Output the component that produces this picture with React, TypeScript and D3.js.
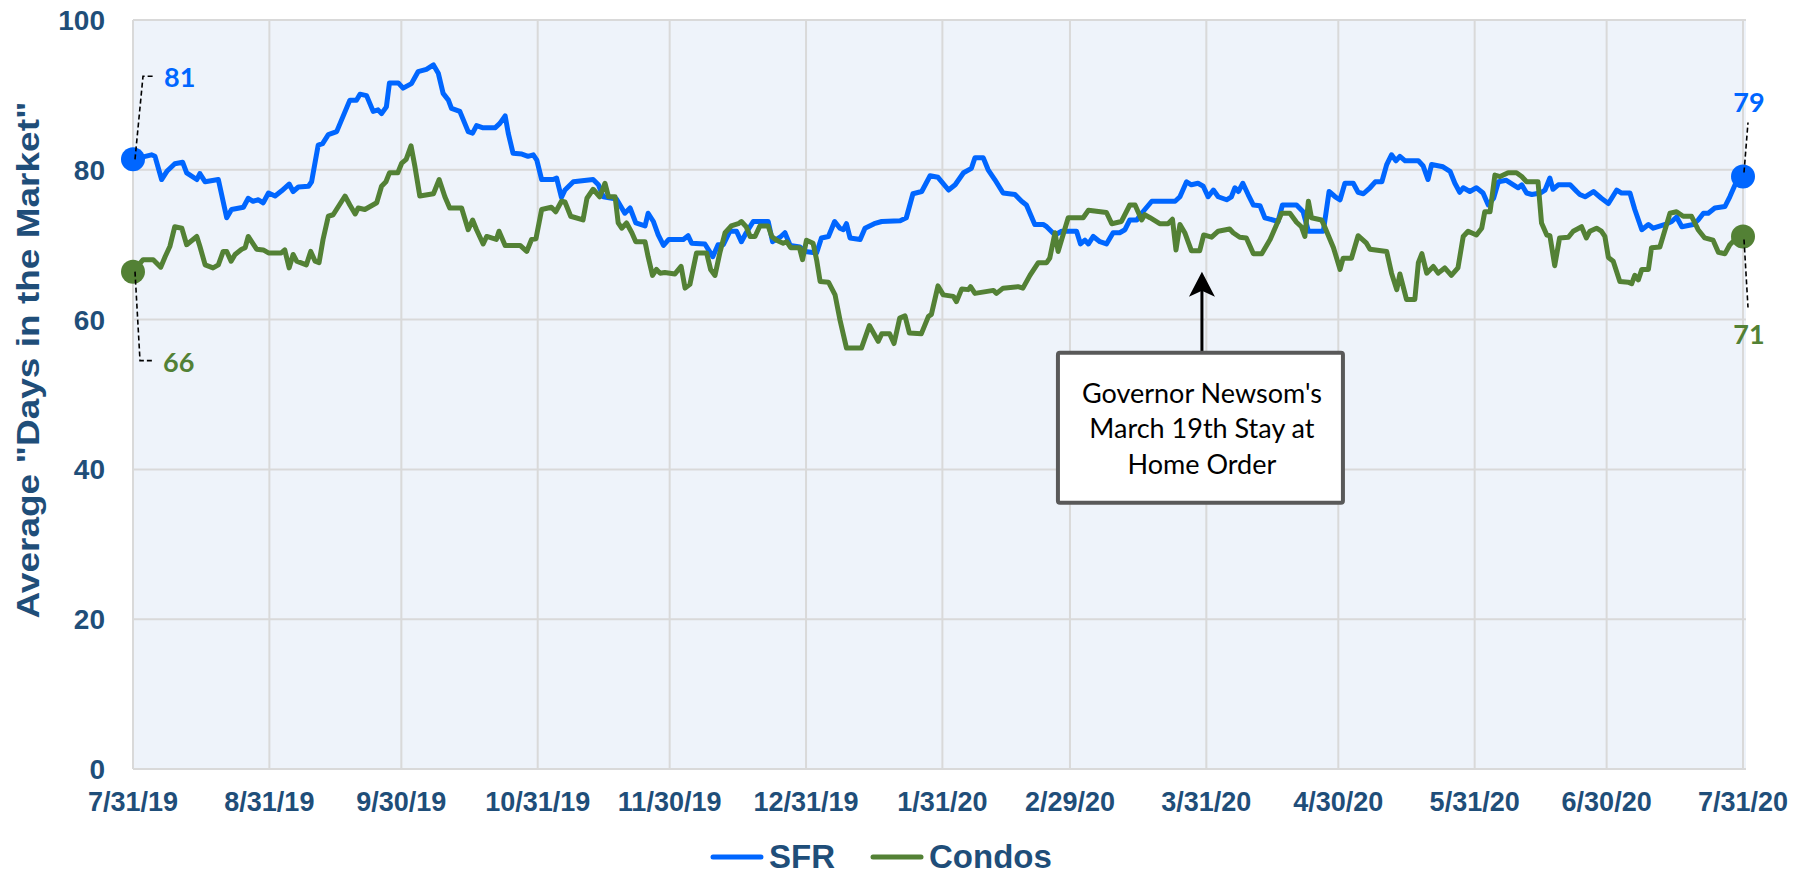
import * as d3 from 'd3';

// Average "Days in the Market", SFR vs Condos, 7/31/19 - 7/31/20
const START = '2019-07-31';
const tickLabels = ['7/31/19', '8/31/19', '9/30/19', '10/31/19', '11/30/19', '12/31/19', '1/31/20', '2/29/20', '3/31/20', '4/30/20', '5/31/20', '6/30/20', '7/31/20'];
const yTicks = [0, 20, 40, 60, 80, 100];

// days since 7/31/19
const sfrDays = [0, 4.2, 5, 6.5, 7.7, 9.5, 11.3, 12.2, 14.5, 15.2, 16.4, 19.4, 21.3, 22.4, 25.1, 26.2, 27.3, 28.5, 29.6, 30.8, 32.3, 33.8, 35.5, 36.4, 37.6, 39.9, 40.6, 42.1, 43.1, 44.4, 46.3, 49.3, 50.8, 51.6, 53.1, 54.6, 55.7, 56.5, 57.6, 58.3, 60.3, 61.4, 63.3, 64.8, 66.7, 68.3, 69.4, 70.5, 71.7, 72.4, 74.3, 76.2, 77.2, 78.1, 79.6, 82.3, 83.4, 84.6, 85.3, 86.4, 88.4, 89.8, 91, 91.8, 92.9, 95.5, 96.3, 97.4, 98.2, 100.1, 104.6, 105.8, 106.9, 109.9, 111.1, 111.8, 113, 114.3, 116.4, 117.1, 118.3, 119.4, 120.6, 121.8, 125.1, 126.2, 127, 130, 131.8, 133, 134.2, 135.7, 137.2, 138.3, 139.4, 141, 144.4, 145.4, 147.1, 148.2, 149.4, 151.6, 152.8, 155.4, 156.5, 158.1, 159.5, 160.7, 161.5, 162.2, 163, 165.3, 166.4, 168.5, 170.2, 174.4, 175.8, 177.3, 179.3, 181.2, 183, 185.4, 186.9, 188.8, 190.6, 191.4, 193.3, 194.4, 195.9, 197.8, 200.5, 202, 203.1, 205, 206.9, 207.7, 209.6, 211.1, 214.5, 215.4, 216.4, 217.2, 218.3, 219.8, 221.3, 222.8, 224.3, 225.5, 226.6, 228.2, 229.3, 231.6, 236.9, 238, 239.5, 240.6, 242.1, 243.3, 244.4, 245.6, 246.7, 248.6, 249.7, 250.5, 251.3, 252.3, 253.5, 254.7, 256.2, 257.3, 260.3, 261.3, 264.5, 266, 267.2, 270.6, 271.9, 273.3, 274.4, 275.5, 277.4, 278.5, 279.7, 281.2, 282.4, 283.9, 285, 286.1, 287.1, 288, 289.2, 292.2, 293.3, 294.4, 295.2, 297.8, 299.4, 300.5, 301.6, 302.4, 303.9, 305.4, 306.9, 308.1, 309.3, 310.4, 312.2, 313.8, 314.9, 315.7, 316.8, 318, 319.9, 321, 322.1, 322.8, 324, 326.7, 328.2, 328.9, 330.1, 332, 333.8, 335.4, 337.3, 338.4, 340.3, 341.4, 343, 344.5, 345.6, 348.3, 349.8, 350.9, 352.1, 354.7, 355.8, 357, 358.1, 359.6, 361.9, 363, 364.2, 366];
const sfrValues = [81.4, 82, 81.8, 78.7, 79.8, 80.8, 81, 79.6, 78.7, 79.5, 78.4, 78.7, 73.6, 74.7, 75, 76.2, 75.8, 76, 75.6, 76.9, 76.5, 77.2, 78.1, 77.1, 77.7, 77.8, 78.4, 83.3, 83.5, 84.7, 85.1, 89.3, 89.3, 90.1, 89.9, 87.8, 88, 87.5, 88.4, 91.6, 91.6, 90.9, 91.5, 93.1, 93.4, 94, 92.9, 90.2, 89.3, 88.2, 87.8, 85.1, 84.9, 85.9, 85.6, 85.6, 86.2, 87.2, 84.9, 82.2, 82.1, 81.8, 82, 81.3, 78.7, 78.7, 78.9, 76.3, 77.3, 78.4, 78.7, 78, 76.4, 76.1, 74.9, 74.2, 74.9, 72.9, 72.5, 74.2, 73.1, 71.3, 69.9, 70.7, 70.7, 71.2, 70.2, 70.1, 68.4, 70, 70, 71.8, 71.8, 70.4, 71.6, 73.1, 73.1, 70.4, 71, 71.6, 69.9, 69.7, 69.1, 68.9, 70.9, 71.1, 73.1, 72.2, 72, 72.8, 70.9, 70.7, 72.2, 72.8, 73.1, 73.2, 73.6, 76.8, 77.1, 79.2, 79, 77.3, 78, 79.6, 80.2, 81.6, 81.6, 80, 78.7, 76.9, 76.7, 75.8, 75.3, 72.7, 72.7, 72.4, 71.3, 71.8, 71.8, 70.1, 70.6, 70.1, 71.1, 70.4, 70.1, 71.6, 71.6, 72, 73.3, 73.3, 74.2, 75.8, 75.8, 76.4, 78.4, 78, 78.2, 77.8, 76.4, 77.3, 76.4, 76, 76.4, 77.6, 77.1, 78.2, 76.7, 75.3, 75.2, 73.6, 73.1, 75.3, 75.3, 74.4, 71.8, 71.8, 77.1, 76.4, 76, 78.2, 78.2, 77, 76.8, 77.6, 78.4, 78.4, 80.7, 82, 81.2, 81.8, 81.2, 81.2, 80.5, 78.7, 80.7, 80.4, 79.8, 78.2, 77, 77.6, 77.1, 77.6, 76.9, 75.3, 76.2, 78.4, 78.6, 78, 77.6, 78, 76.9, 76.7, 76.9, 77.3, 78.9, 77.4, 78, 78, 77.1, 76.7, 76.4, 77.1, 76.2, 75.5, 77.3, 76.9, 76.9, 74.7, 72, 72.7, 72.2, 72.7, 73.1, 73.7, 72.4, 72.7, 73.3, 74.2, 74.2, 74.9, 75.1, 76.4, 78, 79.1];

const condoDays = [0, 2.3, 4.6, 6.3, 7.3, 8.4, 9.5, 11.1, 12.2, 14.5, 15.2, 16.4, 18.2, 19.4, 20.5, 21.3, 22.3, 23.2, 24.7, 25.5, 26.2, 28.1, 29.6, 30.8, 33.7, 34.5, 35.5, 36.4, 37.2, 39.4, 40.4, 41.4, 42.3, 43.2, 44.4, 45.5, 48.2, 49.3, 50.5, 51.2, 52.7, 55.4, 56.5, 57.5, 58.3, 60.2, 61.1, 62.1, 63.2, 64.1, 65.2, 68.3, 69.6, 70.9, 72, 74.7, 76.2, 77.2, 78.1, 79.6, 80.4, 82.6, 83.2, 84.6, 88, 89.5, 90.6, 91.6, 92.9, 95.1, 96.1, 97.4, 98.2, 99.5, 102.3, 103.2, 104.6, 106.1, 107.3, 108.1, 109.6, 110.3, 111.1, 112.2, 113.4, 114.3, 116.4, 117.1, 118.1, 119, 119.8, 120.9, 123.2, 124.6, 125.5, 126.6, 128.1, 130.4, 131.3, 132.3, 133.4, 134.6, 136, 137.6, 138.3, 139.4, 140.3, 141.4, 142.5, 144.4, 145.2, 146.3, 147.8, 148.6, 149.5, 151.5, 152.2, 153.1, 154.6, 155.4, 156.2, 158.1, 159.6, 160.7, 162.2, 165.6, 167.4, 169.4, 170.2, 172, 173, 174.3, 175.5, 176.5, 179.2, 180.8, 181.5, 183, 184.2, 186.5, 187.2, 188.4, 189.9, 190.4, 191.4, 195.6, 196.3, 197.8, 201.2, 202.3, 203.9, 205.8, 207.7, 208.4, 209.6, 210.3, 212.6, 216, 217.2, 221.3, 222.5, 224.7, 226.6, 227.8, 229.3, 230, 231.2, 233.4, 235.3, 236.3, 237.1, 238, 239.1, 240.6, 242.5, 243.4, 245.2, 246.7, 249.3, 250.1, 251.6, 253.1, 254.7, 256.6, 258.5, 261.1, 263, 264.5, 265.6, 266.4, 267.2, 267.9, 270.2, 270.9, 272.9, 274.4, 275.1, 277, 278.5, 280.4, 281.2, 285, 286.1, 287.3, 288, 289.5, 291.4, 292.2, 293, 294.1, 295.6, 296.7, 298.2, 299.7, 301.2, 302.4, 303.5, 305.4, 306.6, 307.3, 308.5, 309.6, 310.8, 312.6, 314.5, 315.7, 316.8, 319.4, 320.2, 321.4, 322.1, 323.2, 324.3, 326.3, 327.4, 329.3, 330.4, 331.2, 332.7, 333.8, 334.6, 335.4, 336.5, 338, 339.9, 340.7, 341.4, 342.2, 343, 344.5, 345.2, 347.1, 349.4, 350.9, 352.4, 354.3, 355.8, 357.3, 359.2, 360.4, 361.9, 363, 364.2, 366];
const condoValues = [66.4, 68, 68, 67, 68.4, 69.8, 72.4, 72.2, 70, 71.1, 69.8, 67.3, 66.9, 67.3, 69.1, 69.1, 67.8, 68.7, 69.4, 69.6, 71.1, 69.4, 69.3, 68.9, 68.9, 69.3, 66.9, 68.7, 67.8, 67.3, 69.1, 67.8, 67.6, 70.7, 73.8, 74, 76.5, 75.3, 74.1, 74.9, 74.7, 75.6, 77.8, 78.4, 79.6, 79.6, 80.9, 81.4, 83.2, 80.4, 76.5, 76.8, 78.7, 76.4, 74.9, 74.9, 72, 73.3, 72, 70.1, 71.1, 70.7, 71.8, 69.9, 69.9, 69.1, 70.7, 70.8, 74.7, 75, 74.4, 75.8, 75.7, 73.8, 73.3, 76.2, 77.4, 76.4, 78.2, 76.4, 76.4, 72.9, 72.2, 72.9, 71.6, 70.4, 70.4, 68.4, 65.9, 66.7, 66.2, 66.3, 66.1, 67.1, 64.2, 64.7, 68.9, 68.9, 66.7, 65.9, 68.9, 71.6, 72.5, 72.8, 73.1, 72.4, 71.1, 71.1, 72.5, 72.5, 71.1, 70.6, 70.2, 70.4, 69.6, 69.6, 68, 70.6, 70.2, 68, 65.1, 65, 63.3, 60, 56.2, 56.2, 59.2, 57.1, 58.1, 58.1, 56.8, 60.2, 60.5, 58.2, 58.1, 60.4, 60.7, 64.5, 63.3, 63.1, 62.4, 64.1, 64, 64.4, 63.5, 63.9, 63.5, 64.2, 64.4, 64.2, 65.9, 67.6, 67.6, 68.2, 71.6, 69.1, 73.6, 73.6, 74.6, 74.3, 72.8, 73.1, 75.3, 75.3, 73.3, 74, 73.6, 72.8, 72.8, 73.4, 69.3, 72.7, 71.6, 69.2, 69.2, 71.3, 71, 71.8, 72.1, 71.6, 71, 70.9, 68.8, 68.8, 70.7, 74.2, 74.2, 73, 72.4, 71.1, 75.8, 73.6, 73.3, 72.4, 69.6, 66.7, 68.2, 68.2, 71.2, 70.2, 69.4, 69.1, 66.2, 64, 66.1, 62.7, 62.7, 67.6, 68.8, 66.2, 67.1, 66.2, 66.9, 65.9, 66.9, 71.1, 71.8, 71.3, 72.2, 74.4, 74.4, 79.3, 79.1, 79.6, 79.6, 79.1, 78.4, 78.4, 72.9, 71.3, 71.2, 67.2, 70.9, 71, 71.8, 72.4, 70.9, 71.8, 72.2, 71.8, 71.1, 68.3, 67.8, 65.1, 65, 64.8, 65.9, 65.3, 66.7, 66.7, 69.6, 69.7, 74.2, 74.4, 73.8, 73.8, 72, 70.9, 70.6, 69, 68.8, 70, 70.7, 71.1];

const annotationDay = 243;
const annotationValue = 66.4;
const annotationLines = ["Governor Newsom's", 'March 19th Stay at', 'Home Order'];

const W = 1809;
const H = 877;
const NAVY = '#1f4e79';
const BLUE = '#0066ff';
const GREEN = '#538135';
const AXIS_FONT = '"Liberation Sans", Arial, sans-serif';
const LABEL_FONT = 'Lato, "Open Sans", sans-serif';

const parseTick = d3.utcParse('%m/%d/%y');
const start = d3.utcParse('%Y-%m-%d')(START) as Date;
const toDate = (d: number) => new Date(start.getTime() + d * 864e5);

export default function App() {
  const x = d3
    .scaleUtc()
    .domain([start, parseTick('7/31/20') as Date])
    .range([133, 1743]);
  const y = d3.scaleLinear().domain([0, 100]).range([769, 20]);

  const line = d3
    .line<[number, number]>()
    .x((d) => x(toDate(d[0])))
    .y((d) => y(d[1]));

  const series = [
    { name: 'SFR', color: BLUE, pts: sfrDays.map((d, i) => [d, sfrValues[i]] as [number, number]) },
    { name: 'Condos', color: GREEN, pts: condoDays.map((d, i) => [d, condoValues[i]] as [number, number]) },
  ];

  const [sfr, condo] = series;
  const first = (s: typeof sfr) => s.pts[0];
  const last = (s: typeof sfr) => s.pts[s.pts.length - 1];

  const ax = x(toDate(annotationDay));
  const tip = y(annotationValue);
  const boxTop = tip + 81;

  const sx0 = x(toDate(first(sfr)[0]));
  const sy0 = y(first(sfr)[1]);
  const cy0 = y(first(condo)[1]);
  const sx1 = x(toDate(last(sfr)[0]));
  const sy1 = y(last(sfr)[1]);
  const cy1 = y(last(condo)[1]);

  return (
    <svg width={W} height={H} style={{ display: 'block', position: 'absolute', left: 0, top: 0 }}>
      <style>{'body{margin:0;overflow:hidden}'}</style>
      <rect width={W} height={H} fill="#ffffff" />
      <rect x={133} y={20} width={1746 - 133} height={769 - 20} fill="#eef3fa" />

      {/* gridlines */}
      {yTicks.map((t) => (
        <line key={'h' + t} x1={133} x2={1746} y1={y(t)} y2={y(t)} stroke="#d9d9d9" strokeWidth={2} />
      ))}
      {tickLabels.map((t) => (
        <line key={'v' + t} x1={x(parseTick(t) as Date)} x2={x(parseTick(t) as Date)} y1={20} y2={769} stroke="#d9d9d9" strokeWidth={2} />
      ))}

      {/* y ticks */}
      {yTicks.map((t) => (
        <text key={'yt' + t} x={105} y={y(t)} dy="0.36em" textAnchor="end" fontFamily={AXIS_FONT} fontWeight="bold" fontSize={28} fill={NAVY}>
          {t}
        </text>
      ))}
      {/* x ticks */}
      {tickLabels.map((t) => (
        <text key={'xt' + t} x={x(parseTick(t) as Date)} y={811} textAnchor="middle" fontFamily={AXIS_FONT} fontWeight="bold" fontSize={27} fill={NAVY}>
          {t}
        </text>
      ))}

      <text
        transform="translate(39,360) rotate(-90)"
        textAnchor="middle"
        fontFamily={AXIS_FONT}
        fontWeight="bold"
        fontSize={31}
        fill={NAVY}
        textLength={517}
        lengthAdjust="spacingAndGlyphs"
      >
        Average "Days in the Market"
      </text>

      {/* series */}
      {series.map((s) => (
        <path key={s.name} d={line(s.pts) || ''} fill="none" stroke={s.color} strokeWidth={5} strokeLinejoin="round" />
      ))}

      {/* end markers */}
      <circle cx={sx0} cy={sy0} r={12} fill={BLUE} />
      <circle cx={sx0} cy={cy0} r={12} fill={GREEN} />
      <circle cx={sx1} cy={sy1} r={12} fill={BLUE} />
      <circle cx={sx1} cy={cy1} r={12} fill={GREEN} />

      {/* leaders */}
      <g fill="none" stroke="#000" strokeWidth={1.6} strokeDasharray="5,3">
        <path d={`M${sx0 + 2},${sy0} L${sx0 + 10},${sy0 - 83} L${sx0 + 22},${sy0 - 83}`} />
        <path d={`M${sx0 + 2},${cy0} L${sx0 + 7},${cy0 + 89} L${sx0 + 20},${cy0 + 89}`} />
        <path d={`M${sx1 + 1},${sy1 - 4} L${sx1 + 5},${sy1 - 54}`} />
        <path d={`M${sx1 + 1},${cy1 + 3} L${sx1 + 5},${cy1 + 71}`} />
      </g>
      <g fontFamily={LABEL_FONT} fontWeight="bold" fontSize={27}>
        <text x={sx0 + 31} y={sy0 - 72} fill={BLUE}>{Math.round(first(sfr)[1])}</text>
        <text x={sx0 + 30} y={cy0 + 100} fill={GREEN}>{Math.round(first(condo)[1])}</text>
        <text x={sx1 + 6} y={sy1 - 65} textAnchor="middle" fill={BLUE}>{Math.round(last(sfr)[1])}</text>
        <text x={sx1 + 6} y={cy1 + 108} textAnchor="middle" fill={GREEN}>{Math.round(last(condo)[1])}</text>
      </g>

      {/* annotation */}
      <line x1={ax} x2={ax} y1={boxTop} y2={tip + 18} stroke="#000" strokeWidth={3} />
      <path d={`M${ax},${tip} L${ax - 13},${tip + 25} L${ax},${tip + 19} L${ax + 13},${tip + 25} Z`} fill="#000" />
      <rect x={ax - 144} y={boxTop} width={285} height={150} fill="#ffffff" stroke="#595959" strokeWidth={4} rx={2} />
      {annotationLines.map((l, i) => (
        <text key={l} x={ax} y={boxTop + 50 + i * 35.5} textAnchor="middle" fontFamily={LABEL_FONT} fontSize={27} fill="#000">
          {l}
        </text>
      ))}

      {/* legend */}
      <g fontFamily={AXIS_FONT} fontWeight="bold" fontSize={33} fill={NAVY}>
        <line x1={713} x2={761} y1={857} y2={857} stroke={BLUE} strokeWidth={5} strokeLinecap="round" />
        <text x={769} y={868}>SFR</text>
        <line x1={873} x2={921} y1={857} y2={857} stroke={GREEN} strokeWidth={5} strokeLinecap="round" />
        <text x={929} y={868}>Condos</text>
      </g>
    </svg>
  );
}
